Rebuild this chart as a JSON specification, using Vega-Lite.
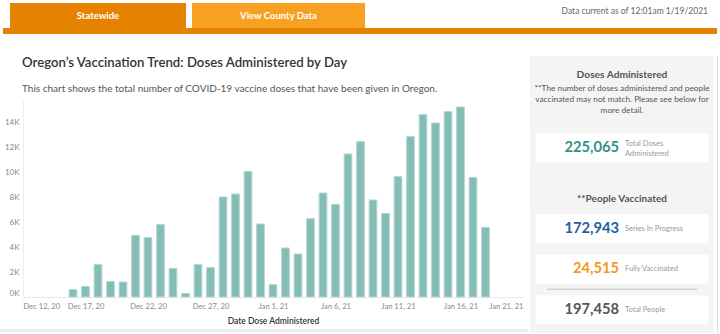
{
  "$schema": "https://vega.github.io/schema/vega-lite/v6.json",
  "padding": {"top": 3, "left": 0, "right": 0, "bottom": 0},
  "background": "white",
  "config": {
    "font": "Lato",
    "view": {"stroke": null},
    "axis": {"labelFont": "Lato", "titleFont": "Lato"}
  },
  "datasets": {
    "doses": [
      {"date": "2020-12-16", "doses": 590},
      {"date": "2020-12-17", "doses": 850},
      {"date": "2020-12-18", "doses": 2590},
      {"date": "2020-12-19", "doses": 1250},
      {"date": "2020-12-20", "doses": 1200},
      {"date": "2020-12-21", "doses": 4930},
      {"date": "2020-12-22", "doses": 4750},
      {"date": "2020-12-23", "doses": 5790},
      {"date": "2020-12-24", "doses": 2290},
      {"date": "2020-12-25", "doses": 290},
      {"date": "2020-12-26", "doses": 2590},
      {"date": "2020-12-27", "doses": 2350},
      {"date": "2020-12-28", "doses": 8000},
      {"date": "2020-12-29", "doses": 8240},
      {"date": "2020-12-30", "doses": 10050},
      {"date": "2020-12-31", "doses": 5840},
      {"date": "2021-01-01", "doses": 990},
      {"date": "2021-01-02", "doses": 3920},
      {"date": "2021-01-03", "doses": 3440},
      {"date": "2021-01-04", "doses": 6270},
      {"date": "2021-01-05", "doses": 8320},
      {"date": "2021-01-06", "doses": 7410},
      {"date": "2021-01-07", "doses": 11440},
      {"date": "2021-01-08", "doses": 12430},
      {"date": "2021-01-09", "doses": 7760},
      {"date": "2021-01-10", "doses": 6690},
      {"date": "2021-01-11", "doses": 9630},
      {"date": "2021-01-12", "doses": 12830},
      {"date": "2021-01-13", "doses": 14590},
      {"date": "2021-01-14", "doses": 13920},
      {"date": "2021-01-15", "doses": 14830},
      {"date": "2021-01-16", "doses": 15200},
      {"date": "2021-01-17", "doses": 9570},
      {"date": "2021-01-18", "doses": 5570}
    ],
    "kpi": [
      {"slot": "Total Doses Administered", "value": 225065, "label": "Total Doses\nAdministered"},
      {"slot": "Series In Progress", "value": 172943, "label": "Series In Progress"},
      {"slot": "Fully Vaccinated", "value": 24515, "label": "Fully Vaccinated"},
      {"slot": "Total People", "value": 197458, "label": "Total People"}
    ],
    "heads": [
      {"slot": "Doses Administered", "head": "Doses Administered", "note": "**The number of doses administered and people\nvaccinated may not match. Please see below for\nmore detail."},
      {"slot": "**People Vaccinated", "head": "**People Vaccinated", "note": ""}
    ],
    "titles": [
      {"kind": "title", "text": "Oregon’s Vaccination Trend: Doses Administered by Day"},
      {"kind": "subtitle", "text": "This chart shows the total number of COVID-19 vaccine doses that have been given in Oregon."}
    ],
    "tabs": [{"tab": "Statewide"}, {"tab": "View County Data"}],
    "stamp": [{"text": "Data current as of 12:01am 1/19/2021"}]
  },
  "spacing": 22,
  "vconcat": [
    {
      "spacing": 0,
      "vconcat": [
        {
          "spacing": 6,
          "hconcat": [
            {"width": 4, "height": 25, "data": {"values": []}, "mark": "text"},
            {
              "width": 176, "height": 25,
              "view": {"fill": "#E58200"},
              "data": {"name": "tabs"},
              "transform": [{"filter": "datum.tab === 'Statewide'"}],
              "mark": {"type": "text", "color": "white", "fontWeight": "bold", "fontSize": 9.5},
              "encoding": {"text": {"field": "tab"}}
            },
            {
              "width": 173, "height": 25,
              "view": {"fill": "#F7A021"},
              "data": {"name": "tabs"},
              "transform": [{"filter": "datum.tab === 'View County Data'"}],
              "mark": {"type": "text", "color": "white", "fontWeight": "bold", "fontSize": 9.5},
              "encoding": {"text": {"field": "tab"}}
            },
            {
              "width": 337, "height": 25,
              "data": {"name": "stamp"},
              "mark": {"type": "text", "align": "right", "fontSize": 8.5, "color": "#666666", "dy": -5},
              "encoding": {"text": {"field": "text"}, "x": {"value": "width"}}
            }
          ]
        },
        {
          "spacing": 0,
          "hconcat": [
            {"width": 3, "height": 6, "data": {"values": []}, "mark": "text"},
            {"width": 714, "height": 6, "view": {"fill": "#E58200"}, "data": {"values": []}, "mark": "text"}
          ]
        }
      ]
    },
    {
      "spacing": 2,
      "hconcat": [
        {
          "spacing": 3,
          "vconcat": [
            {
              "spacing": 0,
              "vconcat": [
                {
                  "width": 44, "height": 44,
                  "data": {"name": "titles"},
                  "layer": [
                    {
                      "transform": [{"filter": "datum.kind === 'title'"}],
                      "mark": {"type": "text", "align": "left", "baseline": "middle", "dy": -15, "fontSize": 13.2, "fontWeight": 600, "color": "#333333"},
                      "encoding": {"text": {"field": "text"}}
                    },
                    {
                      "transform": [{"filter": "datum.kind === 'subtitle'"}],
                      "mark": {"type": "text", "align": "left", "baseline": "middle", "dy": 11, "fontSize": 10, "color": "#555555"},
                      "encoding": {"text": {"field": "text"}}
                    }
                  ]
                },
                {
                  "spacing": 3,
                  "hconcat": [
                    {"width": 1, "height": 1, "data": {"values": []}, "mark": "text"},
                    {
                      "width": 500, "height": 197,
                      "data": {"name": "doses"},
                      "mark": {"type": "bar", "size": 7.7, "color": "#84bcb6", "stroke": "#b3d6d2", "strokeWidth": 1},
                      "encoding": {
                        "x": {
                          "field": "date", "type": "temporal",
                          "scale": {"type": "utc", "padding": 0, "nice": false, "domain": [{"year": 2020, "month": 12, "date": 12, "utc": true}, {"year": 2021, "month": 1, "date": 21, "utc": true}]},
                          "axis": {
                            "title": "Date Dose Administered", "format": "%b %-d, %y",
                            "values": [
                              {"year": 2020, "month": 12, "date": 12, "utc": true},
                              {"year": 2020, "month": 12, "date": 17, "utc": true},
                              {"year": 2020, "month": 12, "date": 22, "utc": true},
                              {"year": 2020, "month": 12, "date": 27, "utc": true},
                              {"year": 2021, "month": 1, "date": 1, "utc": true},
                              {"year": 2021, "month": 1, "date": 6, "utc": true},
                              {"year": 2021, "month": 1, "date": 11, "utc": true},
                              {"year": 2021, "month": 1, "date": 16, "utc": true},
                              {"year": 2021, "month": 1, "date": 21, "utc": true}
                            ],
                            "labelFlush": true, "labelOverlap": false, "ticks": false, "grid": false,
                            "domainColor": "#e8e8e8", "labelFontSize": 7.6, "labelColor": "#888888", "labelPadding": 5,
                            "titleFontSize": 8.5, "titleFontWeight": 600, "titleColor": "#333333", "titlePadding": 7
                          }
                        },
                        "y": {
                          "field": "doses", "type": "quantitative",
                          "scale": {"domain": [0, 15760], "nice": false, "padding": 0},
                          "axis": {
                            "title": null, "values": [0, 2000, 4000, 6000, 8000, 10000, 12000, 14000],
                            "labelExpr": "datum.value / 1000 + 'K'", "labelFlush": true,
                            "ticks": false, "grid": false, "domainColor": "#eeeeee",
                            "labelFontSize": 8, "labelColor": "#888888", "labelPadding": 4
                          }
                        }
                      }
                    }
                  ]
                }
              ]
            },
            {"width": 528, "height": 3, "view": {"fill": "#ececec"}, "data": {"values": []}, "mark": "text"}
          ]
        },
        {
          "spacing": 3,
          "hconcat": [
            {
              "width": 184, "height": 277,
              "view": {"fill": "#f4f4f4"},
              "layer": [
                {
                  "data": {"name": "kpi"},
                  "mark": {"type": "rect", "color": "white"},
                  "encoding": {
                    "y": {"field": "slot", "type": "nominal", "axis": null,
                      "scale": {"type": "band", "domain": ["Doses Administered", "Total Doses Administered", "**People Vaccinated", "Series In Progress", "Fully Vaccinated", "Total People"], "paddingInner": 0.284, "paddingOuter": 0.562, "align": 0.807}},
                    "x": {"datum": -0.94, "type": "quantitative", "axis": null, "scale": {"domain": [-1, 1], "nice": false, "zero": false}},
                    "x2": {"datum": 0.94}
                  }
                },
                {
                  "data": {"name": "kpi"},
                  "transform": [{"filter": "datum.slot === 'Total People'"}],
                  "mark": {"type": "rule", "color": "#d6d0c8", "strokeWidth": 1.5, "yOffset": -6},
                  "encoding": {
                    "y": {"field": "slot", "type": "nominal", "bandPosition": 0},
                    "x": {"datum": -0.815, "type": "quantitative"},
                    "x2": {"datum": 0.815}
                  }
                },
                {
                  "data": {"name": "kpi"},
                  "mark": {"type": "text", "align": "right", "dx": -3, "fontSize": 14.7, "fontWeight": "bold"},
                  "encoding": {
                    "y": {"field": "slot", "type": "nominal"},
                    "text": {"field": "value", "type": "quantitative", "format": ","},
                    "color": {"field": "slot", "type": "nominal", "legend": null,
                      "scale": {"domain": ["Total Doses Administered", "Series In Progress", "Fully Vaccinated", "Total People"], "range": ["#30918a", "#1f5fa0", "#f7961e", "#555555"]}}
                  }
                },
                {
                  "data": {"name": "kpi"},
                  "transform": [{"filter": "datum.slot !== 'Total Doses Administered'"}],
                  "mark": {"type": "text", "align": "left", "dx": 3, "fontSize": 7.5, "color": "#999999"},
                  "encoding": {
                    "y": {"field": "slot", "type": "nominal"},
                    "text": {"field": "label"}
                  }
                },
                {
                  "data": {"name": "kpi"},
                  "transform": [{"filter": "datum.slot === 'Total Doses Administered'"}],
                  "mark": {"type": "text", "align": "left", "dx": 3, "dy": -4, "fontSize": 7.5, "color": "#999999", "lineBreak": "\n", "lineHeight": 10.5},
                  "encoding": {
                    "y": {"field": "slot", "type": "nominal"},
                    "text": {"field": "label"}
                  }
                },
                {
                  "data": {"name": "heads"},
                  "transform": [{"filter": "datum.slot === 'Doses Administered'"}],
                  "mark": {"type": "text", "dy": -32, "fontSize": 10.2, "fontWeight": "bold", "color": "#555555"},
                  "encoding": {
                    "y": {"field": "slot", "type": "nominal"},
                    "text": {"field": "head"}
                  }
                },
                {
                  "data": {"name": "heads"},
                  "transform": [{"filter": "datum.slot === 'Doses Administered'"}],
                  "mark": {"type": "text", "dy": -18.5, "fontSize": 8.3, "color": "#555555", "lineBreak": "\n", "lineHeight": 11},
                  "encoding": {
                    "y": {"field": "slot", "type": "nominal"},
                    "text": {"field": "note"}
                  }
                },
                {
                  "data": {"name": "heads"},
                  "transform": [{"filter": "datum.slot === '**People Vaccinated'"}],
                  "mark": {"type": "text", "dy": 10.8, "fontSize": 10, "fontWeight": "bold", "color": "#555555"},
                  "encoding": {
                    "y": {"field": "slot", "type": "nominal"},
                    "text": {"field": "head"}
                  }
                }
              ]
            },
            {"width": 1, "height": 277, "view": {"fill": "#dddddd"}, "data": {"values": []}, "mark": "text"}
          ]
        }
      ]
    }
  ]
}
